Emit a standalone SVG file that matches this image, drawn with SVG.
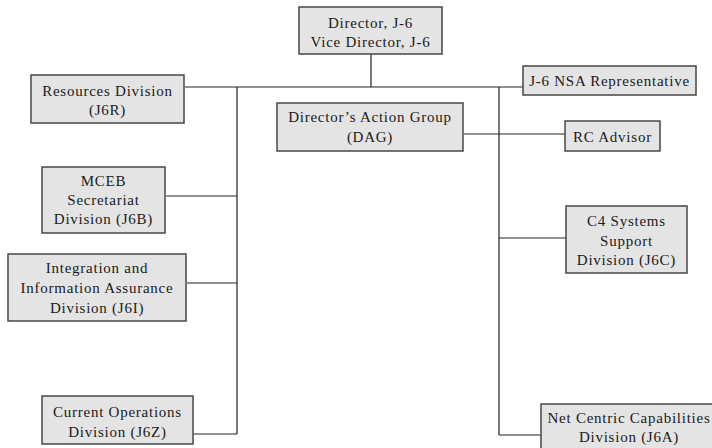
<svg xmlns="http://www.w3.org/2000/svg" width="712" height="448" viewBox="0 0 712 448">
<style>
.box{fill:#e4e4e4;stroke:#474747;stroke-width:1.5}
.t{font-family:'Liberation Serif','DejaVu Serif',serif;font-size:15px;letter-spacing:0.75px;fill:#1a1a1a;text-anchor:middle}
.c{fill:none;stroke:#222;stroke-width:1.2}
</style>
<rect width="712" height="448" fill="#fff"/>
<g id="connectors">
<path class="c" d="M371 54V87M185 87H523"/>
<path class="c" d="M237 87V434M166 196H237M187 283H237M194 434H237"/>
<path class="c" d="M499 87V435M464 134H565M499 238H566M499 435H541"/>
</g>
<g id="director">
<rect class="box" x="299" y="7" width="143" height="47"/>
<text class="t" x="370.5" y="28">Director, J-6</text>
<text class="t" x="370.5" y="47">Vice Director, J-6</text>
</g>
<g id="resources">
<rect class="box" x="31" y="75" width="153" height="48"/>
<text class="t" x="107.5" y="96">Resources Division</text>
<text class="t" x="107.5" y="115">(J6R)</text>
</g>
<g id="mceb">
<rect class="box" x="42" y="167" width="123" height="66"/>
<text class="t" x="103.5" y="186">MCEB</text>
<text class="t" x="103.5" y="205">Secretariat</text>
<text class="t" x="103.5" y="224">Division (J6B)</text>
</g>
<g id="integration">
<rect class="box" x="8" y="254" width="178" height="67"/>
<text class="t" x="97" y="273">Integration and</text>
<text class="t" x="97" y="293">Information Assurance</text>
<text class="t" x="97" y="313">Division (J6I)</text>
</g>
<g id="currentops">
<rect class="box" x="42" y="396" width="151" height="48"/>
<text class="t" x="117.5" y="417">Current Operations</text>
<text class="t" x="117.5" y="437">Division (J6Z)</text>
</g>
<g id="dag">
<rect class="box" x="277" y="103" width="186" height="48"/>
<text class="t" x="370" y="122">Director’s Action Group</text>
<text class="t" x="370" y="142">(DAG)</text>
</g>
<g id="nsa">
<rect class="box" x="523" y="66" width="173" height="29"/>
<text class="t" x="609.5" y="86">J-6 NSA Representative</text>
</g>
<g id="rc">
<rect class="box" x="565" y="121" width="95" height="30"/>
<text class="t" x="612.5" y="142">RC Advisor</text>
</g>
<g id="c4">
<rect class="box" x="566" y="206" width="121" height="67"/>
<text class="t" x="626.5" y="226">C4 Systems</text>
<text class="t" x="626.5" y="246">Support</text>
<text class="t" x="626.5" y="265">Division (J6C)</text>
</g>
<g id="netcentric">
<rect class="box" x="541" y="404" width="178" height="50"/>
<text class="t" x="629" y="423">Net Centric Capabilities</text>
<text class="t" x="629" y="442">Division (J6A)</text>
</g>
</svg>
